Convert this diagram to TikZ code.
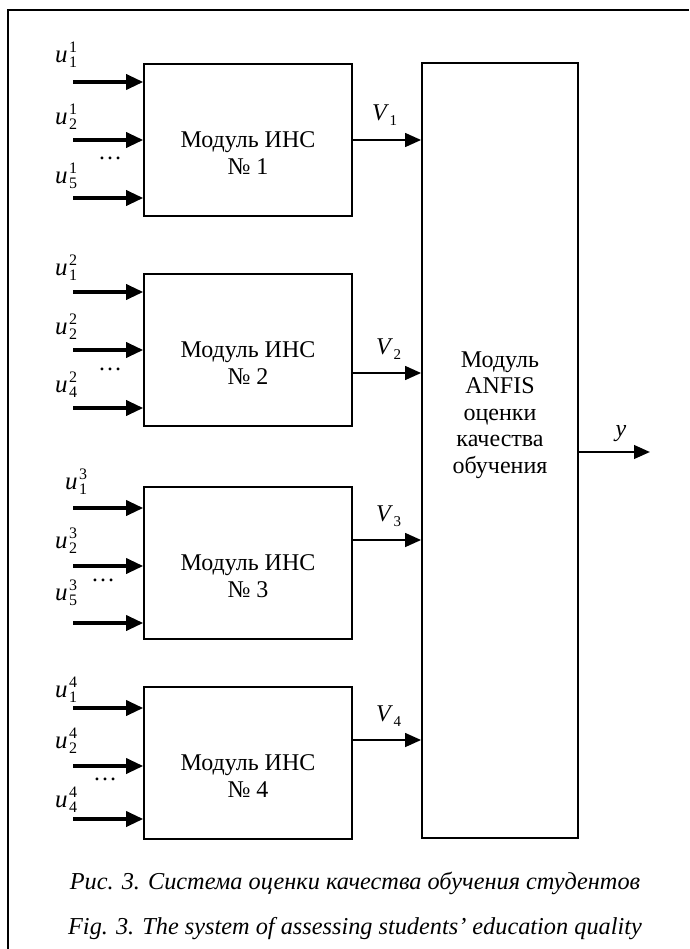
\documentclass[tikz,border=0pt]{standalone}
\usepackage{fontspec}
\setmainfont{Liberation Serif}
\usetikzlibrary{arrows.meta,positioning}
\newcommand{\uin}[2]{\textit{u}\hspace{1.5pt}\rlap{\raisebox{10pt}{\fontsize{16}{16}\selectfont #2}}\raisebox{-5pt}{\fontsize{16}{16}\selectfont #1}}
\newcommand{\vout}[1]{\textit{V}\hspace{0.5pt}\raisebox{-5pt}{\fontsize{15}{15}\selectfont #1}}
\tikzset{
  every picture/.style={line join=miter, >={Triangle[length=17pt,width=15pt]}},
  every node/.style={font=\fontsize{24}{27}\selectfont},
  % Linien
  frame/.style={line width=1.8pt},
  sig/.style={line width=3.4pt, ->},
  sigout/.style={line width=2.6pt, ->, >={Triangle[length=16pt,width=13.5pt]}},
  % Bloecke
  modbox/.style={draw, line width=1.6pt, minimum width=208pt, minimum height=152pt, inner sep=0pt},
  anfisbox/.style={draw, line width=1.6pt, minimum width=156pt, minimum height=775pt, inner sep=0pt},
  modtxt/.style={align=center, inner sep=0pt},
  % Beschriftung der Ein- und Ausgaenge
  inlbl/.style={anchor=base west, inner sep=0pt, font=\fontsize{25}{27}\selectfont},
  outlbl/.style={anchor=base west, inner sep=0pt},
  dots/.style={anchor=base, inner sep=0pt},
  caption/.style={anchor=base, inner sep=0pt, font=\fontsize{24.3}{27}\selectfont\itshape},
}
\begin{document}
\begin{tikzpicture}[x=1pt, y=-1pt]
  \useasboundingbox (0,0) rectangle (689,949);
  \draw[frame] (8,949) -- (8,10) -- (689,10);
  % ANFIS-Block
  \node[anfisbox] (anfis) at (500,450.5) {};
  \node[modtxt, font=\fontsize{24}{26.5}\selectfont] (anfistxt) at (500,415)
    {Модуль\\ANFIS\\оценки\\качества\\обучения};
  % Module
  \node[modbox] (m1) at (248,140) {};
  \node[modbox] (m2) at (248,350) {};
  \node[modbox] (m3) at (248,563) {};
  \node[modbox] (m4) at (248,763) {};
  \node[modtxt] (t1) at ([yshift=-13pt]m1.center) {Модуль ИНС\\№ 1};
  \node[modtxt] (t2) at ([yshift=-13pt]m2.center) {Модуль ИНС\\№ 2};
  \node[modtxt] (t3) at ([yshift=-13pt]m3.center) {Модуль ИНС\\№ 3};
  \node[modtxt] (t4) at ([yshift=-13pt]m4.center) {Модуль ИНС\\№ 4};
  % Eingaenge Modul 1
  \coordinate (a11) at (73,82);  \coordinate (a12) at (73,140); \coordinate (a13) at (73,198);
  \draw[sig] (a11) -- (a11 -| m1.west);
  \draw[sig] (a12) -- (a12 -| m1.west);
  \draw[sig] (a13) -- (a13 -| m1.west);
  \node[inlbl] (u11) at (55,63)  {\uin{1}{1}};
  \node[inlbl] (u12) at (55,125) {\uin{2}{1}};
  \node[inlbl] (u13) at (55,184) {\uin{5}{1}};
  \node[dots] (d1) at (110,160) {…};
  % Eingaenge Modul 2
  \coordinate (a21) at (73,292); \coordinate (a22) at (73,350); \coordinate (a23) at (73,408);
  \draw[sig] (a21) -- (a21 -| m2.west);
  \draw[sig] (a22) -- (a22 -| m2.west);
  \draw[sig] (a23) -- (a23 -| m2.west);
  \node[inlbl] (u21) at (55,276) {\uin{1}{2}};
  \node[inlbl] (u22) at (55,334) {\uin{2}{2}};
  \node[inlbl] (u23) at (55,392) {\uin{4}{2}};
  \node[dots] (d2) at (110,370) {…};
  % Eingaenge Modul 3
  \coordinate (a31) at (73,508); \coordinate (a32) at (73,566); \coordinate (a33) at (73,623);
  \draw[sig] (a31) -- (a31 -| m3.west);
  \draw[sig] (a32) -- (a32 -| m3.west);
  \draw[sig] (a33) -- (a33 -| m3.west);
  \node[inlbl] (u31) at (65,489) {\uin{1}{3}};
  \node[inlbl] (u32) at (55,548) {\uin{2}{3}};
  \node[inlbl] (u33) at (55,600) {\uin{5}{3}};
  \node[dots] (d3) at (103,581) {…};
  % Eingaenge Modul 4
  \coordinate (a41) at (73,708); \coordinate (a42) at (73,766); \coordinate (a43) at (73,819);
  \draw[sig] (a41) -- (a41 -| m4.west);
  \draw[sig] (a42) -- (a42 -| m4.west);
  \draw[sig] (a43) -- (a43 -| m4.west);
  \node[inlbl] (u41) at (55,697) {\uin{1}{4}};
  \node[inlbl] (u42) at (55,748) {\uin{2}{4}};
  \node[inlbl] (u43) at (55,807) {\uin{4}{4}};
  \node[dots] (d4) at (105,780) {…};
  % Ausgaenge der Module
  \draw[sigout] (m1.east) -- (m1.east -| anfis.west);
  \draw[sigout] ([yshift=-23pt]m2.east) -- ([yshift=-23pt]m2.east -| anfis.west);
  \draw[sigout] ([yshift=23pt]m3.east) -- ([yshift=23pt]m3.east -| anfis.west);
  \draw[sigout] ([yshift=23pt]m4.east) -- ([yshift=23pt]m4.east -| anfis.west);
  \node[outlbl] (v1) at (372,121) {\vout{1}};
  \node[outlbl] (v2) at (376,354) {\vout{2}};
  \node[outlbl] (v3) at (376,521) {\vout{3}};
  \node[outlbl] (v4) at (376,721) {\vout{4}};
  % Ausgang
  \coordinate (yend) at (650,452);
  \draw[sigout] (anfis.east |- yend) -- (yend);
  \node[anchor=base, inner sep=0pt] (ylbl) at (621,436) {\textit{y}};
  % Unterschrift
  \node[caption] (cap1) at (355,889) {Рис. 3. Система оценки качества обучения студентов};
  \node[caption] (cap2) at (355,934) {Fig. 3. The system of assessing students’ education quality};
\end{tikzpicture}
\end{document}
